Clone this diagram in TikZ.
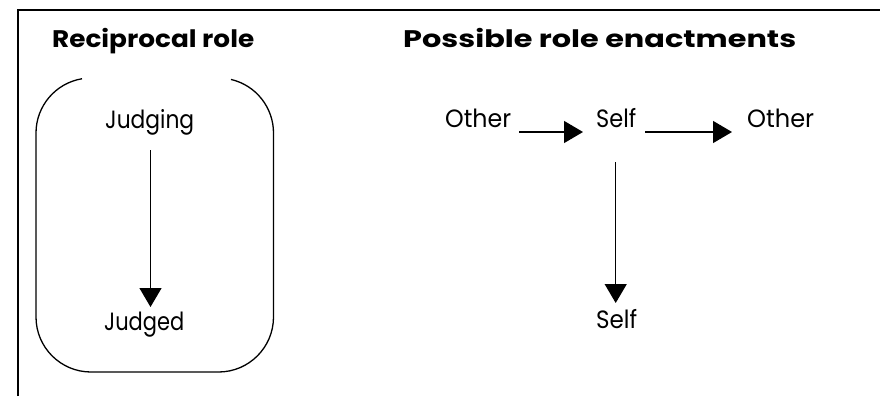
\documentclass[tikz,border=0pt]{standalone}
\usepackage{fontspec}
\setmainfont{Poppins}
\usetikzlibrary{arrows.meta}
\newcommand{\fitw}[2]{\resizebox{#1}{\height}{#2}}
\tikzset{
  frame/.style={line width=1.3pt},
  title/.style={inner sep=0pt, anchor=base west, font=\fontsize{24}{27}\selectfont\bfseries},
  lbl/.style={inner sep=0pt, anchor=base west, font=\fontsize{25}{28}\selectfont},
  arr/.style={line width=1.3pt, -{Triangle[width=22pt,length=19pt]}},
}
\begin{document}
\begin{tikzpicture}[x=1pt,y=-1pt]
\useasboundingbox (0,0) rectangle (880,396);
% frame
\draw[frame] (18,396) -- (18,10) -- (880,10);
% titles
\node[title] (t1) at (52,48) {\fitw{202pt}{Reciprocal role}};
\node[title] (t2) at (403,48) {\fitw{393pt}{Possible role enactments}};
% rounded box with gap at top
\draw[frame] (91,133) ++(-99.4:55) arc[start angle=-99.4, end angle=-180, radius=55]
  -- (36,317) arc[start angle=180, end angle=90, radius=55]
  -- (218.5,372) arc[start angle=90, end angle=0, radius=55]
  -- (273.5,133) arc[start angle=0, end angle=-76.9, radius=55];
\coordinate (lx) at (150.5,0);
\coordinate (rx) at (615.7,0);
% left
\node[lbl] (judging) at (105,128) {\fitw{89pt}{Judging}};
\node[lbl] (judged) at (104,330) {\fitw{80pt}{Judged}};
\draw[arr] ([yshift=-22pt]judging.base -| lx) -- ([yshift=23pt]judged.base -| lx);
% right
\node[lbl] (o1) at (445,127) {\fitw{66pt}{Other}};
\node[lbl] (s1) at (596,127) {\fitw{40pt}{Self}};
\node[lbl] (o2) at (747,127) {\fitw{67pt}{Other}};
\node[lbl] (s2) at (596,328) {\fitw{41pt}{Self}};
\draw[arr] ([shift={(8pt,-5pt)}]o1.base east) -- ([shift={(-13pt,-5pt)}]s1.base west);
\draw[arr] ([shift={(9pt,-5pt)}]s1.base east) -- ([shift={(-15pt,-5pt)}]o2.base west);
\draw[arr] ([yshift=-35pt]s1.base -| rx) -- ([yshift=25pt]s2.base -| rx);
\end{tikzpicture}
\end{document}
